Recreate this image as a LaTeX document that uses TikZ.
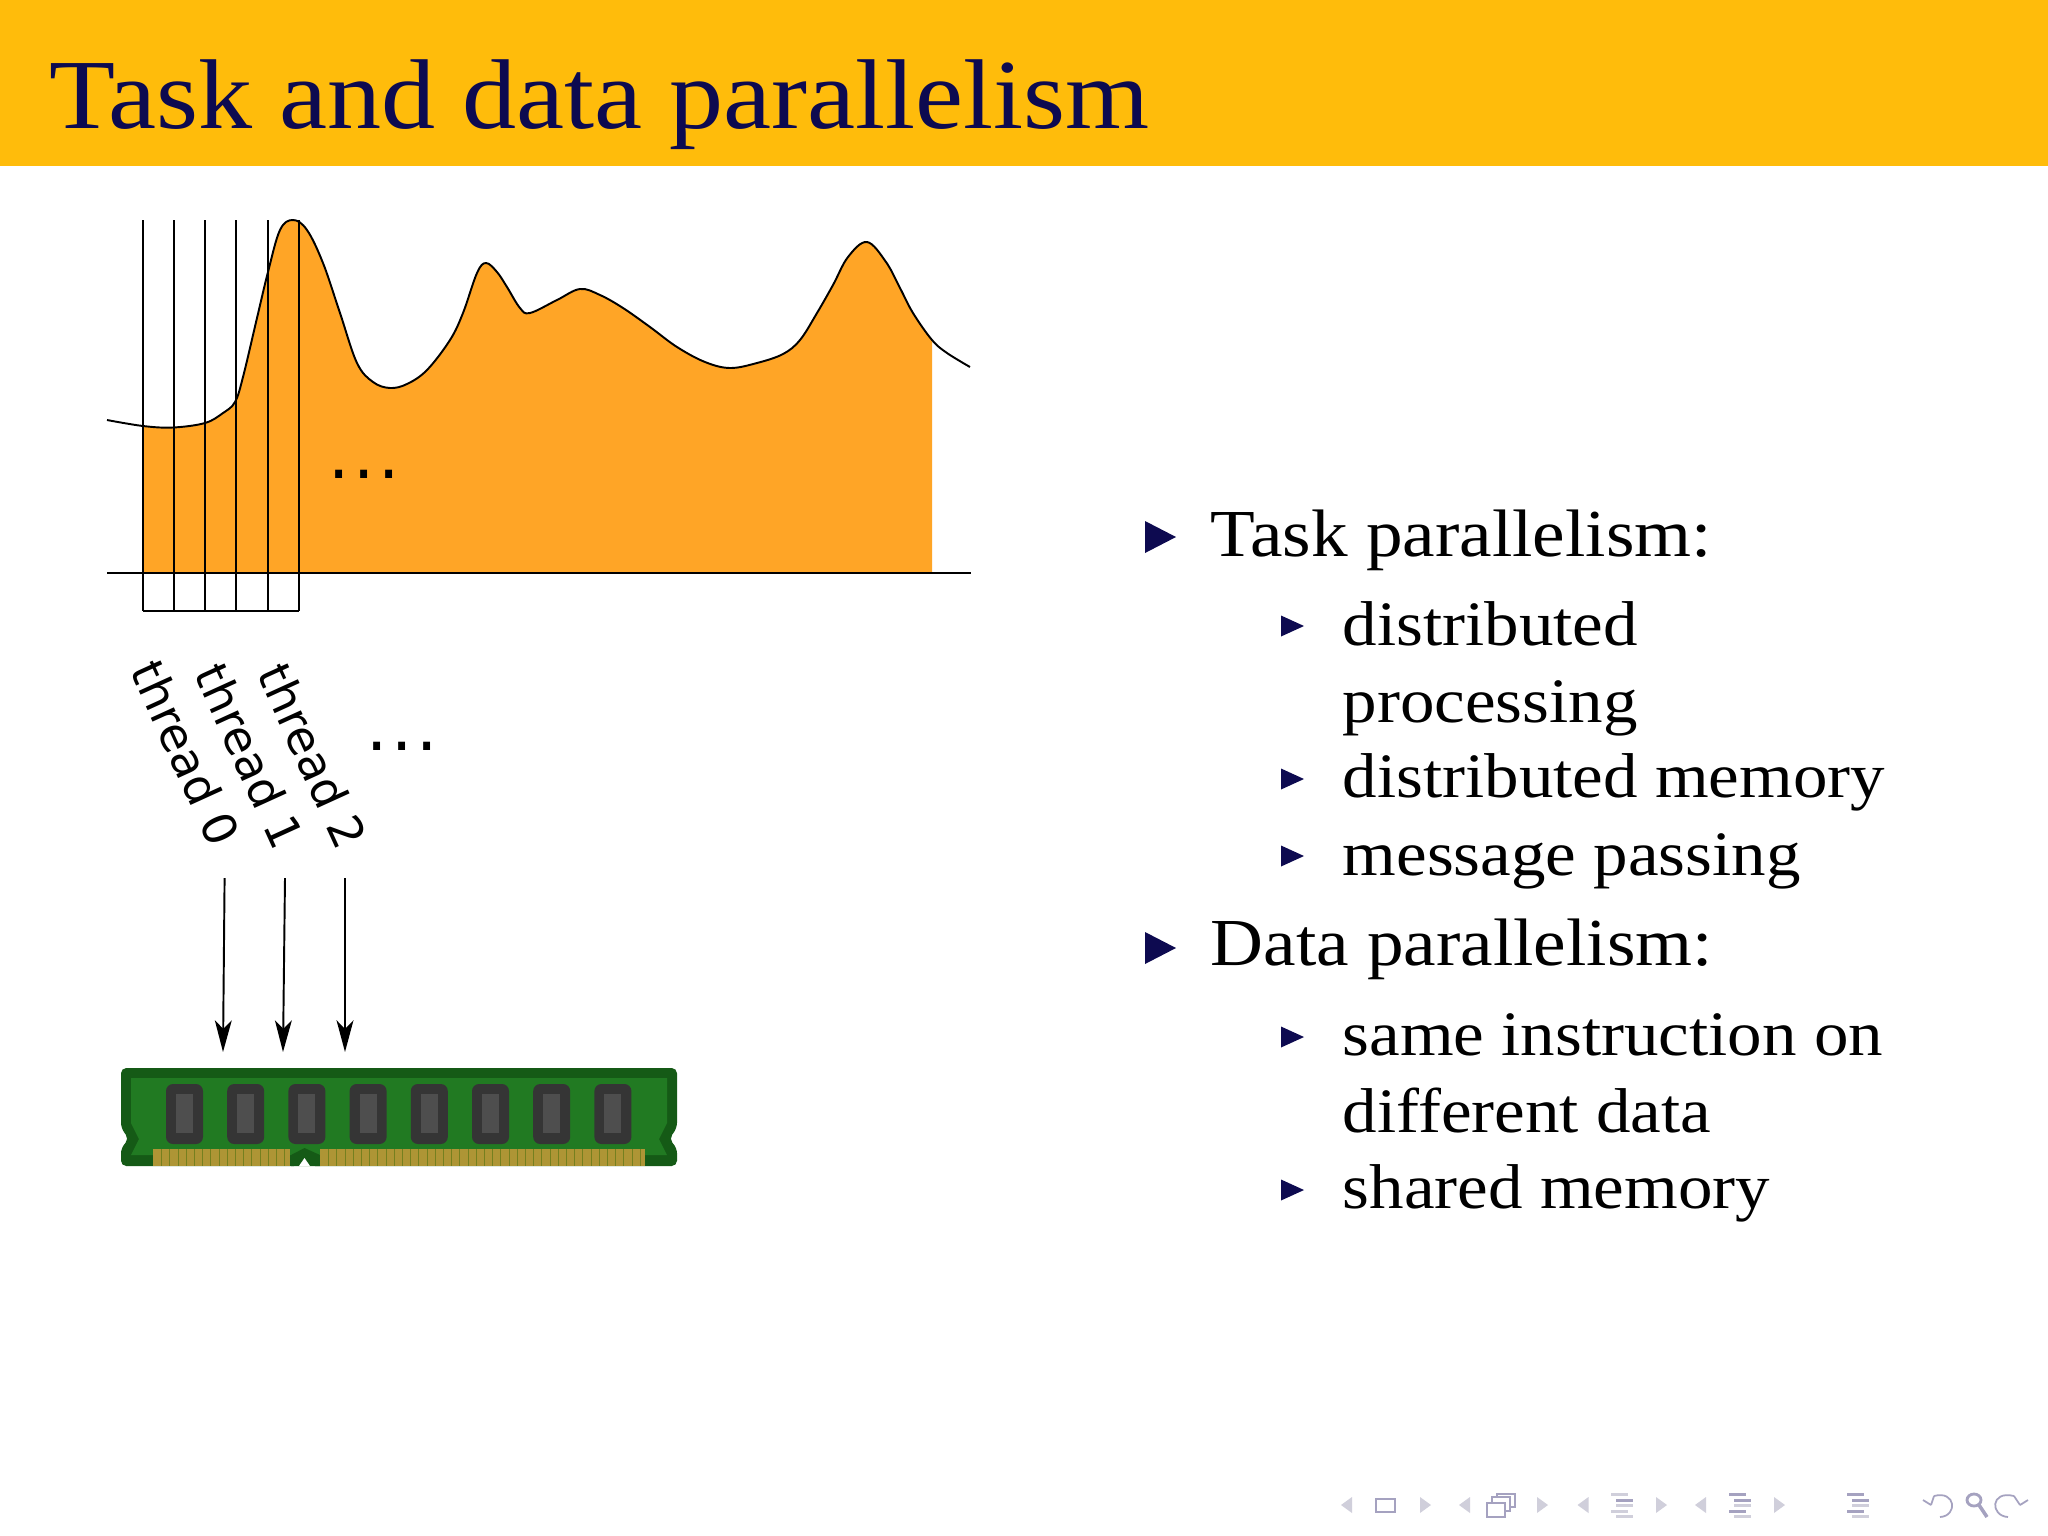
\documentclass[tikz,border=0pt]{standalone}
\usepackage{fontspec}
\setmainfont[FakeStretch=1.09]{Liberation Serif}
\newfontfamily\threadfont{DejaVu Sans}
\usetikzlibrary{arrows.meta,calc,positioning}

\definecolor{headerbar}{HTML}{FFBC0B}
\definecolor{navytext}{HTML}{0D0A50}
\definecolor{areafill}{HTML}{FFA526}
\definecolor{ramdark}{HTML}{155A16}
\definecolor{ramgreen}{HTML}{217A22}
\definecolor{chipdark}{HTML}{353535}
\definecolor{chiplight}{HTML}{4E4E4E}
\definecolor{contact}{HTML}{AE9535}
\definecolor{contactgap}{HTML}{75801F}
\definecolor{navon}{HTML}{A5A2C0}
\definecolor{navoff}{HTML}{D0CFDB}

\tikzset{
  titletext/.style={anchor=base west,text=navytext,font=\fontsize{28.2}{32}\selectfont},
  itemtext/.style={anchor=base west,text=black,font=\fontsize{19.1}{22}\selectfont},
  subtext/.style={anchor=base west,text=black,font=\fontsize{18}{22}\selectfont},
  threadtext/.style={rotate=-65.5,font=\threadfont\fontsize{13.2}{15}\selectfont},
  dotstext/.style={font=\threadfont\fontsize{19}{20}\selectfont},
  bigbullet/.pic={\fill[navytext] (-15,-16) -- (16,0) -- (-15,16) -- cycle;},
  smallbullet/.pic={\fill[navytext] (-11,-10.5) -- (12,0) -- (-11,10.5) -- cycle;},
  navline/.style={draw=navon,line width=0.5pt}
}

\newcommand{\navbars}[2]{
  \foreach \yy/\xa/\xb/\cc in {0/0/17/#2,1/5/22/navon,2/5/22/navoff,3/0/17/#2,4/5/22/navoff}
    \fill[\cc] (#1+\xa,1493+\yy*5.6) rectangle (#1+\xb,1496+\yy*5.6);
}

\begin{document}
\begin{tikzpicture}[x=0.01cm,y=-0.01cm,line width=0.55pt,>={Stealth[length=9pt,width=4.8pt,inset=2.4pt]}]
\useasboundingbox (0,0) rectangle (2048,1536);
\fill[white] (0,0) rectangle (2048,1536);
\fill[headerbar] (0,0) rectangle (2048,166);
\node[titletext] (title) at (37,128) {Task and data parallelism};

% area under the curve
\def\curvepts{(107,420) (143,426) (173,427.5) (205,423) (223,413) (235,402) (243,377) (257,318) (268,272) (280,230) (293,220) (307,230) (323,263) (340,313) (357,363) (373,382) (390,388) (407,384) (427,370) (450,340) (463,313) (477,273) (486,263) (497,272) (507,287) (520,308) (530,313) (557,300) (580,289) (600,295) (623,308) (650,327) (677,347) (705,362) (730,368) (757,363) (783,354) (800,340) (817,313) (833,285) (848,257) (867,242) (886,262) (900,288) (913,313) (932,340) (947,353) (970,367)}
\begin{scope}
\clip (143,100) rectangle (932,573);
\fill[areafill] plot[smooth,tension=0.6] coordinates {\curvepts} -- (970,573) -- (107,573) -- cycle;
\end{scope}
\draw plot[smooth,tension=0.6] coordinates {\curvepts};
\draw (107,573) -- (971,573);

\foreach \xx in {143,174,205,236,268,299}
  \draw (\xx,220) -- (\xx,611);
\draw (143,611) -- (299,611);

\node[dotstext] (dotsarea) at (364,474) {.\kern1pt.\kern1pt.};
\node[dotstext] (dotsthread) at (402,746) {.\kern1pt.\kern1pt.};

\node[threadtext] (threadzero) at (186,753) {thread 0};
\node[threadtext] (threadone) at (250,756) {thread 1};
\node[threadtext] (threadtwo) at (313,756) {thread 2};

% memory module
\fill[ramdark,rounded corners=1.5pt] (121,1068) -- (677,1068) -- (677,1128) -- (669,1139) -- (677,1148) -- (677,1166) -- (310,1166) -- (304.5,1158) -- (299,1166) -- (121,1166) -- (121,1148) -- (129,1139) -- (121,1128) -- cycle;
\fill[ramgreen] (131,1078) -- (667,1078) -- (667,1123) -- (659,1139) -- (667,1155) -- (131,1155) -- (139,1139) -- (131,1123) -- cycle;
\fill[ramdark] (291,1155) -- (304.5,1148) -- (320,1155) -- (320,1166) -- (291,1166) -- cycle;
\fill[white] (299,1166) -- (304.5,1158) -- (310,1166) -- cycle;
\foreach \cc in {0,...,7} {
  \fill[chipdark,rounded corners=2pt] (166+\cc*61.2,1084) rectangle (203+\cc*61.2,1144);
  \fill[chiplight] (176+\cc*61.2,1094) rectangle (193+\cc*61.2,1133);
}
\fill[contact] (153,1149) rectangle (290,1166);
\fill[contact] (320,1149) rectangle (645,1166);
\foreach \cc in {1,...,16}
  \fill[contactgap] (153+\cc*8.2,1149) rectangle (154+\cc*8.2,1166);
\foreach \cc in {1,...,39}
  \fill[contactgap] (320+\cc*8.2,1149) rectangle (321+\cc*8.2,1166);

% arrows into the module
\coordinate (topzero) at (224.6,878);
\coordinate (topone) at (285,878);
\coordinate (toptwo) at (345,878);
\coordinate (endzero) at (223,1052);
\coordinate (endone) at (283,1052);
\coordinate (endtwo) at (345,1052);
\path[->]
  (topzero) edge (endzero)
  (topone) edge (endone)
  (toptwo) edge (endtwo);

% bullet list
\pic at (1160,537) {bigbullet};
\node[itemtext] (task) at (1198,556) {Task parallelism:};
\pic at (1292,626) {smallbullet};
\node[subtext] (distproc) at (1330,645) {distributed};
\node[subtext] (processing) at (1330,722) {processing};
\pic at (1292,779) {smallbullet};
\node[subtext] (distmem) at (1330,797) {distributed memory};
\pic at (1292,856) {smallbullet};
\node[subtext] (message) at (1330,875) {message passing};
\pic at (1160,948) {bigbullet};
\node[itemtext] (data) at (1198,965) {Data parallelism:};
\pic at (1292,1037) {smallbullet};
\node[subtext] (same) at (1330,1055) {same instruction on};
\node[subtext] (different) at (1330,1132) {different data};
\pic at (1292,1190) {smallbullet};
\node[subtext] (shared) at (1330,1208) {shared memory};

% navigation symbols
\foreach \xx in {1341,1459,1577.5,1695}
  \fill[navoff] (\xx,1505) -- (\xx+11,1497) -- (\xx+11,1513) -- cycle;
\foreach \xx in {1420,1537,1656,1774}
  \fill[navoff] (\xx,1497) -- (\xx+11,1505) -- (\xx,1513) -- cycle;
\draw[navline,line width=0.8pt] (1376,1499) rectangle (1395,1512);
\draw[navline] (1497,1494) rectangle (1515,1507);
\draw[navline,fill=white] (1492,1497) rectangle (1510,1511);
\draw[navline,fill=white,line width=0.7pt] (1487,1503) rectangle (1505,1517);
\navbars{1611}{navoff}
\navbars{1729}{navon}
\navbars{1847}{navon}
% undo, search, redo
\draw[navline] (1931,1505) -- (1923,1500) (1931,1505) -- (1934,1496) (1934,1496) .. controls (1956,1490) and (1958,1516) .. (1940,1517);
\draw[navline,line width=0.8pt] (1974,1500) ellipse (7 and 6);
\draw[navline,line width=1pt] (1979,1505) -- (1987,1517);
\draw[navline] (2020,1505) -- (2028,1500) (2020,1505) -- (2014,1496) (2014,1496) .. controls (1990,1490) and (1990,1516) .. (2008,1517);
\end{tikzpicture}
\end{document}
